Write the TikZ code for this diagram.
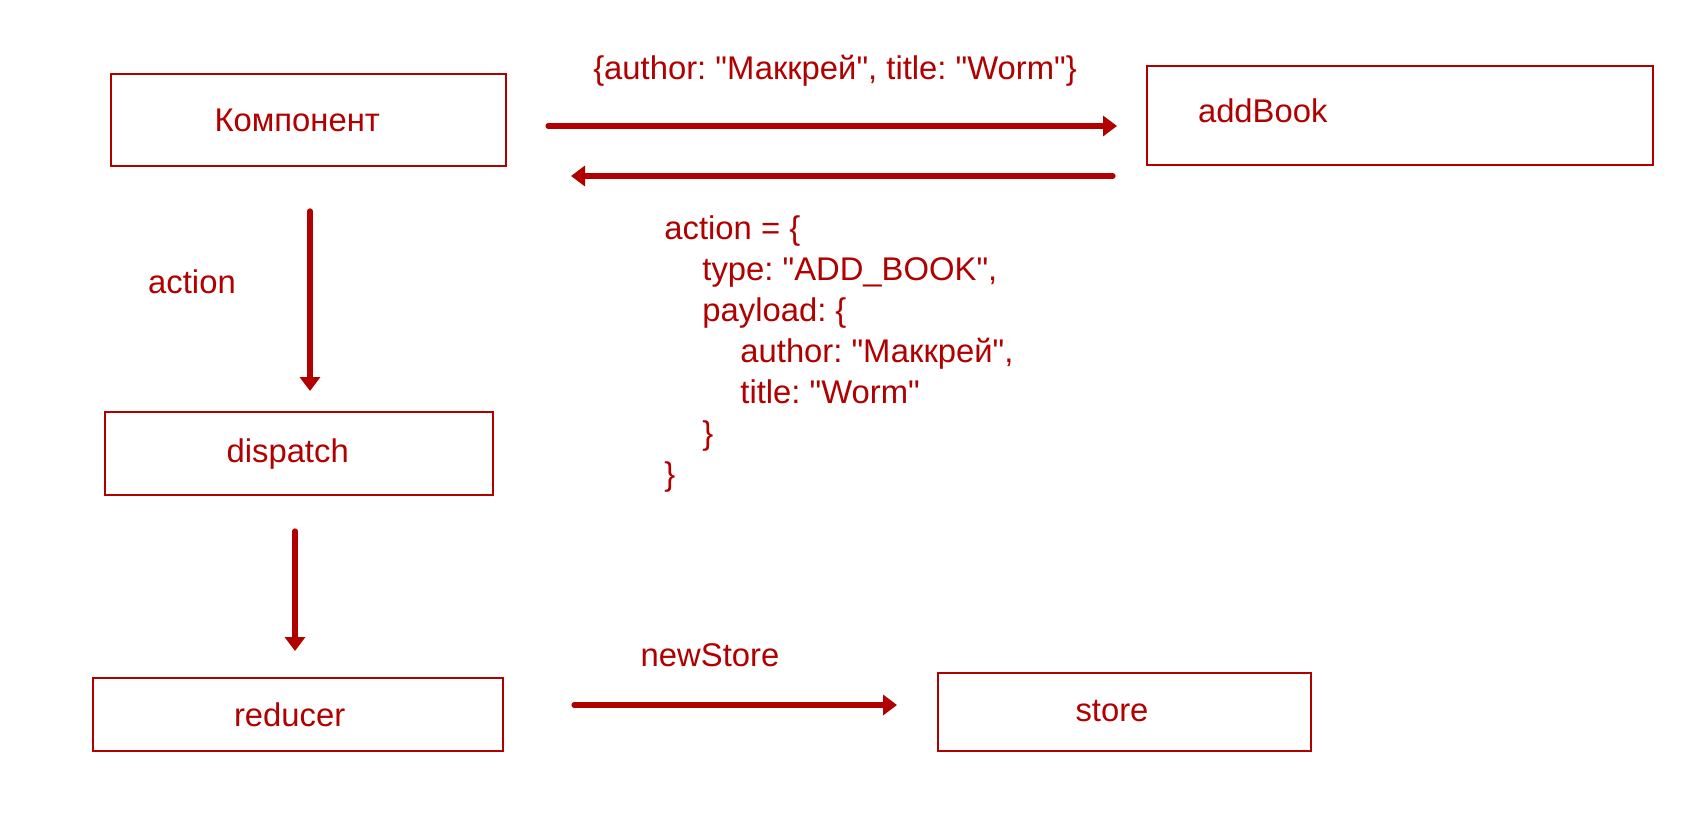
\documentclass[tikz,border=0pt]{standalone}
\usepackage{fontspec}
\setmainfont{Liberation Sans}[Ligatures=TeXOff]
\usetikzlibrary{arrows.meta}
\definecolor{redux}{RGB}{176,0,0}
\frenchspacing
\tikzset{
  box/.style={draw=redux, line width=1pt, text=redux, inner ysep=0pt, align=left},
  lbl/.style={text=redux, inner sep=0pt},
  flow/.style={draw=redux, line width=2.6pt, line cap=round, -{Triangle[length=7pt,width=10pt]}}
}
\begin{document}
\begin{tikzpicture}[x=0.5pt,y=-0.5pt,font=\fontsize{16.4}{20.5}\selectfont]
\useasboundingbox (0,0) rectangle (1700,824);

\node[box, minimum height=46pt, inner xsep=52pt, text width=93.5pt] (komp) at (308,120) {Компонент};
\node[box, minimum height=49.5pt, inner xsep=25.5pt, text width=202pt] (add) at (1400,115.5) {\raisebox{4.5pt}{addBook}};
\node[box, minimum height=41.5pt, inner xsep=60.8pt, text width=72.4pt] (disp) at (299,453.7) {\raisebox{1.5pt}{dispatch}};
\node[box, minimum height=36.5pt, inner xsep=70.5pt, text width=64pt] (red) at (298,714.5) {\raisebox{-1pt}{reducer}};
\node[box, minimum height=39pt, inner xsep=68.75pt, text width=49pt] (store) at (1124.5,712) {\raisebox{1pt}{store}};

\node[lbl] (call) at (835,71) {\{author: "Маккрей", title: "Worm"\}};
\node[lbl] (act) at (192,282) {action};
\node[lbl] (ns) at (710,655) {newStore};
\node[lbl, anchor=north west, align=left] (code) at (664,215) {action = \{\\
\hspace*{19pt}type: "ADD\_BOOK",\\
\hspace*{19pt}payload: \{\\
\hspace*{38pt}author: "Маккрей",\\
\hspace*{38pt}title: "Worm"\\
\hspace*{19pt}\}\\
\}};

% arrow ends
\coordinate (a1) at (548,126);
\coordinate (b1) at (1117,126);
\coordinate (a2) at (1113,176);
\coordinate (b2) at (571,176);
\coordinate (a3) at (310,211);
\coordinate (b3) at (310,391);
\coordinate (a4) at (295,531);
\coordinate (b4) at (295,651);
\coordinate (a5) at (574,705);
\coordinate (b5) at (897,705);

\path[flow] (a1) -- (b1);
\path[flow] (a2) -- (b2);
\path[flow] (a3) -- (b3);
\path[flow] (a4) -- (b4);
\path[flow] (a5) -- (b5);
\end{tikzpicture}
\end{document}
